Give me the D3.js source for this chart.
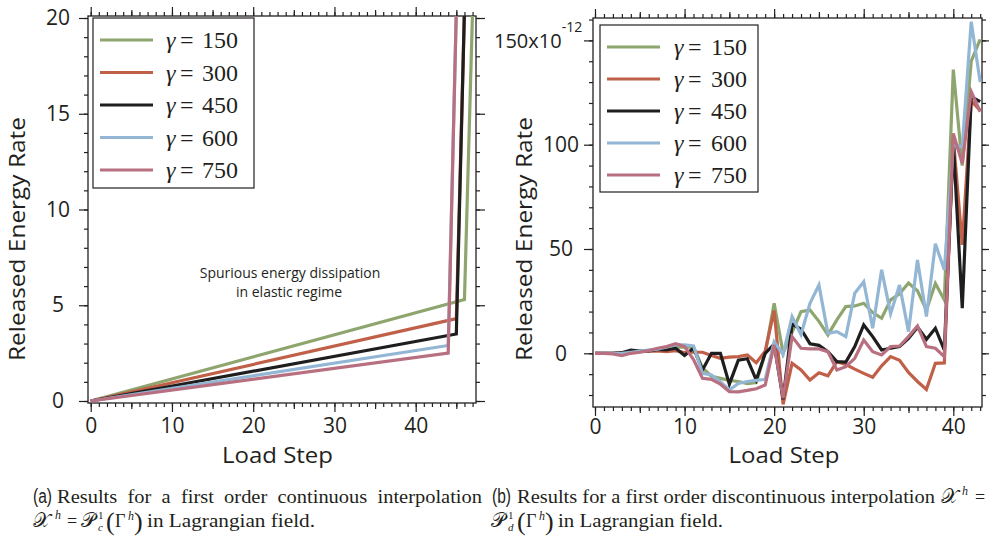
<!DOCTYPE html>
<html>
<head>
<meta charset="utf-8">
<script src="https://cdn.jsdelivr.net/npm/d3@7"></script>
<style>
body{margin:0;background:#fff;}
svg{display:block;}
</style>
</head>
<body>
<div class="container"></div>
<script>
/***
  Released energy rate vs load step, two panels
***/

//1. Data
const gammas = [150, 300, 450, 600, 750];
const colors = ['#8ea56e', '#c16048', '#1e1e1e', '#92b6d4', '#b87080'];

//(a) continuous interpolation: breakpoints of each curve
const contSteps150 = [0, 46, 47];
const cont150 = [0, 5.3, 20.4];
const contSteps300 = [0, 45, 46];
const cont300 = [0, 4.3, 20.4];
const contSteps450 = [0, 45, 46];
const cont450 = [0, 3.5, 20.4];
const contSteps600 = [0, 44, 45];
const cont600 = [0, 2.9, 20.4];
const contSteps750 = [0, 44, 45];
const cont750 = [0, 2.5, 20.4];

//(b) discontinuous interpolation: one value per load step 0..43 (x 1e-12)
const steps = d3.range(0, 44);
const disc150 = [0,0,0,0.3,0.8,1,1.2,1.5,2,3,3,3, -7,-11,-12,-13,-13.5,-14.5,-14,0, 24,0,10,20,20.8,15.3,8.8,16,22.4,22.7, 24,19.5,16.8,25.6,28.5,33.7,30,20.8,33.5,25.6, 136,90,140,150.5];
const disc300 = [0,0,0,0.2,0.5,0.8,1,1.2,0.8,1.3,0.3,0.5, 0.5,-1,-2.4,-1.8,-1.6,-0.8,-4.5,1, 20.5,-24.5,-4.8,-8,-12.8,-9.3,-10.8,-4,-5.4,-7.6, -9.6,-11.5,-6,-1.6,-3.4,-9.2,-13.5,-17.3,-4.8,-4.6, 103,52,121,116.5];
const disc450 = [0,0,0,0.3,1.5,1.1,1.2,1.9,1.6,2.4,-1,2.5, -8,0,0,-14.8,-3.3,-2.6,-12.8,0, 4.4,-22,14,11.6,4.6,3.8,0.8,-4,-4.2,3.2, 13.6,8,1.6,2.4,3.2,7.2,12.5,6.7,12,1.5, 101,21.6,123,120.6];
const disc600 = [0,0,0,0,0.5,1,1.5,2,3,4,4,3.5, -9.6,-10.4,-13.6,-17.6,-14.5,-13.5,-13,-12.5, 5.5,-0.5,17.6,9,24,32.7,9.6,10.4,8,28.8, 34.3,12,40,19,32.7,10.4,44.7,17.6,52.5,40, 100,99,159,130];
const disc750 = [0,0,-0.3,-1.1,0,0.5,1.3,2.4,3.2,4.6,3.2,-3, -12,-12.5,-14.8,-18.4,-18.5,-17.8,-17,-15.2, 4,-21.6,8,2.4,2.1,2.1,0.8,-8,-6.4,-2.4, 6.4,0.8,-0.8,3.2,3.5,8,13.1,3.2,2.4,-1.6, 105.4,91,125.4,115.8];

//tick values
const xMajor = [0, 10, 20, 30, 40];
const leftYMajor = [0, 5, 10, 15, 20];
const rightYMajor = [0, 50, 100, 150];

const contSeries = [
	{steps: contSteps150, values: cont150},
	{steps: contSteps300, values: cont300},
	{steps: contSteps450, values: cont450},
	{steps: contSteps600, values: cont600},
	{steps: contSteps750, values: cont750}
];
const discSeries = [disc150, disc300, disc450, disc600, disc750].map(v => ({steps: steps, values: v}));

const serif = '"Liberation Serif", "DejaVu Serif", serif';
const sans = '"Open Sans", "Noto Sans", sans-serif';
const ink = '#231f20';

//2. Svg
const svg = d3.select('.container')
	.append('svg')
	.attr('width', 989)
	.attr('height', 539);

//3. Panel with Igor style frame axes
function drawPanel(opt){
	const g = svg.append('g');
	const f = opt.frame;
	const x = d3.scaleLinear().domain([0, 40]).range(opt.xRange);
	const y = d3.scaleLinear().domain(opt.yDomain).range(opt.yRange);

	const clipId = 'clip-' + opt.name;
	svg.append('clipPath').attr('id', clipId)
		.append('rect')
		.attr('x', f.l).attr('y', f.t)
		.attr('width', f.r - f.l).attr('height', f.b - f.t);

	function ticks(axisFn, scale, values, size, transform, format, pad){
		const ax = axisFn(scale).tickValues(values).tickSize(size).tickSizeOuter(0)
			.tickFormat(format || '').tickPadding(pad || 3);
		const a = g.append('g').attr('transform', transform).call(ax);
		a.select('.domain').remove();
		a.selectAll('line').attr('stroke', ink).attr('stroke-width', 1.2);
		a.selectAll('text').attr('font-family', sans).attr('font-size', 21).attr('fill', ink);
		return a;
	}

	const xMinor = d3.range(0, opt.xMax + 1);
	const xMid = d3.range(5, opt.xMax + 1, 10);
	//bottom + top
	ticks(d3.axisBottom, x, xMinor, 4, `translate(0,${f.b})`);
	ticks(d3.axisBottom, x, xMid, 6, `translate(0,${f.b})`);
	ticks(d3.axisBottom, x, xMajor, 9, `translate(0,${f.b})`, d3.format('d'), opt.xPad);
	ticks(d3.axisTop, x, xMinor, 4, `translate(0,${f.t})`);
	ticks(d3.axisTop, x, xMid, 6, `translate(0,${f.t})`);
	ticks(d3.axisTop, x, xMajor, 9, `translate(0,${f.t})`);

	//left + right
	ticks(d3.axisLeft, y, opt.yMinor, 4, `translate(${f.l},0)`);
	const yl = ticks(d3.axisLeft, y, opt.yMajor, 9, `translate(${f.l},0)`, opt.yFormat);
	yl.selectAll('text').attr('text-anchor', 'middle').attr('x', -opt.yLabelOffset);
	ticks(d3.axisRight, y, opt.yMinor, 4, `translate(${f.r},0)`);
	ticks(d3.axisRight, y, opt.yMajor, 9, `translate(${f.r},0)`);

	//frame
	g.append('rect')
		.attr('x', f.l).attr('y', f.t)
		.attr('width', f.r - f.l).attr('height', f.b - f.t)
		.attr('fill', 'none').attr('stroke', ink).attr('stroke-width', 1.3);

	//lines
	const line = d3.line().x(d => x(d[0])).y(d => y(d[1]));
	g.append('g').attr('clip-path', `url(#${clipId})`)
		.selectAll('path')
		.data(opt.series)
		.enter()
		.append('path')
		.attr('d', s => line(s.steps.map((st, i) => [st, s.values[i]])))
		.attr('fill', 'none')
		.attr('stroke', (s, i) => colors[i])
		.attr('stroke-width', 3.2)
		.attr('stroke-linejoin', 'miter');

	//legend
	const lg = opt.legend;
	g.append('rect')
		.attr('x', lg.x).attr('y', lg.y).attr('width', lg.w).attr('height', lg.h)
		.attr('fill', '#fff').attr('stroke', ink).attr('stroke-width', 1.2);
	const items = g.selectAll('.item').data(gammas).enter().append('g')
		.attr('transform', (d, i) => `translate(${lg.x},${lg.y + lg.first + i * lg.step})`);
	items.append('line')
		.attr('x1', 7).attr('x2', 60)
		.attr('stroke', (d, i) => colors[i]).attr('stroke-width', 3.2);
	items.append('text').attr('x', lg.tx).attr('y', 8).attr('font-style', 'italic').text('γ');
	items.append('text').attr('x', lg.tx + 14).attr('y', 8).text('=');
	items.append('text').attr('x', lg.tx + lg.nx).attr('y', 8).text(d => d);
	items.selectAll('text').attr('font-family', serif).attr('font-size', 24).attr('fill', ink);

	//axis titles
	g.append('text')
		.attr('x', opt.titleX).attr('y', 463)
		.attr('text-anchor', 'middle')
		.attr('font-family', sans).attr('font-size', 22).attr('fill', ink)
		.attr('textLength', 111).attr('lengthAdjust', 'spacingAndGlyphs')
		.text('Load Step');
	g.append('text')
		.attr('transform', `translate(${opt.yTitleX},239) rotate(-90)`)
		.attr('text-anchor', 'middle')
		.attr('font-family', sans).attr('font-size', 22).attr('fill', ink)
		.attr('textLength', 244).attr('lengthAdjust', 'spacingAndGlyphs')
		.text('Released Energy Rate');

	return g;
}

//3.1 (a)
const ga = drawPanel({
	name: 'a',
	frame: {l: 88, r: 476, t: 16, b: 403},
	xRange: [90.7, 415.7],
	yDomain: [0, 20], yRange: [401, 18],
	xMax: 47, xPad: 6,
	yMinor: d3.range(0, 21),
	yMajor: leftYMajor,
	yFormat: d3.format('d'),
	yLabelOffset: 30,
	series: contSeries,
	legend: {x: 93, y: 18, w: 161, h: 170, first: 22, step: 32.5, tx: 73, nx: 36},
	titleX: 277.5, yTitleX: 25
});

ga.append('text')
	.attr('x', 290).attr('y', 278)
	.attr('text-anchor', 'middle')
	.attr('font-family', sans).attr('font-size', 14).attr('fill', ink)
	.text('Spurious energy dissipation');
ga.append('text')
	.attr('x', 289).attr('y', 297)
	.attr('text-anchor', 'middle')
	.attr('font-family', sans).attr('font-size', 14).attr('fill', ink)
	.text('in elastic regime');

//3.2 (b)
const gb = drawPanel({
	name: 'b',
	frame: {l: 593, r: 982, t: 18, b: 407},
	xRange: [595, 953.3],
	yDomain: [0, 150], yRange: [353.3, 40.4],
	xMax: 43, xPad: 3,
	yMinor: d3.range(-20, 161, 10),
	yMajor: rightYMajor,
	yFormat: d => d === 150 ? '' : d,
	yLabelOffset: 32,
	series: discSeries,
	legend: {x: 600, y: 25, w: 158, h: 167, first: 22, step: 32, tx: 74, nx: 37},
	titleX: 784, yTitleX: 532
});

//150 label carries the exponent
const expLabel = gb.append('text')
	.attr('x', 494).attr('y', 48)
	.attr('font-family', sans).attr('font-size', 20).attr('fill', ink)
	.text('150x10');
expLabel.append('tspan')
	.attr('dx', 0).attr('dy', -16)
	.attr('font-size', 14)
	.text('-12');

//4. Captions
const capSize = 18;
function squeezed(x, y, str, width, size, family, style){
	return svg.append('text')
		.attr('x', x).attr('y', y)
		.attr('font-family', family || serif)
		.attr('font-size', size || capSize)
		.attr('font-style', style || null)
		.attr('fill', ink)
		.attr('textLength', width).attr('lengthAdjust', 'spacingAndGlyphs')
		.text(str);
}
function plain(x, y, str, size, style){
	return svg.append('text')
		.attr('x', x).attr('y', y)
		.attr('font-family', serif)
		.attr('font-size', size || capSize)
		.attr('font-style', style || null)
		.attr('fill', ink)
		.text(str);
}

//glyph scale taken from the (b) line
const probe = plain(0, -50, 'Results for a first order discontinuous interpolation');
const squeeze = 418 / probe.node().getComputedTextLength();
probe.remove();

//(a) line 1, justified
squeezed(33, 503, '(a)', 19, 20, '"Liberation Sans", sans-serif');
const wordsA = 'Results for a first order continuous interpolation'.split(' ');
const widthsA = wordsA.map(w => {
	const t = plain(0, -50, w);
	const l = t.node().getComputedTextLength() * squeeze;
	t.remove();
	return l;
});
const gapA = (482 - 57 - d3.sum(widthsA)) / (wordsA.length - 1);
let cx = 57;
wordsA.forEach((w, i) => {
	squeezed(cx, 503, w, widthsA[i]);
	cx += widthsA[i] + gapA;
});

//(a) line 2
plain(33, 527, '𝒳', 20);
plain(55, 519, 'h', 12, 'italic');
plain(67, 527, '=');
plain(81, 527, '𝒫', 20);
plain(98, 519, '1', 11);
plain(98, 531, 'c', 11, 'italic');
plain(106, 530, '(', 26);
plain(115, 527, 'Γ');
plain(128, 520, 'h', 12, 'italic');
plain(134, 530, ')', 26);
squeezed(147, 527, 'in Lagrangian field.', 168);

//(b) line 1
squeezed(492, 503, '(b)', 19, 20, '"Liberation Sans", sans-serif');
squeezed(517, 503, 'Results for a first order discontinuous interpolation', 418);
plain(941, 503, '𝒳', 20);
plain(962, 495, 'h', 12, 'italic');
plain(975, 503, '=');

//(b) line 2
plain(491, 527, '𝒫', 20);
plain(508, 519, '1', 11);
plain(508, 531, 'd', 11, 'italic');
plain(517, 530, '(', 26);
plain(526, 527, 'Γ');
plain(539, 520, 'h', 12, 'italic');
plain(545, 530, ')', 26);
squeezed(558, 527, 'in Lagrangian field.', 165);
</script>
</body>
</html>
